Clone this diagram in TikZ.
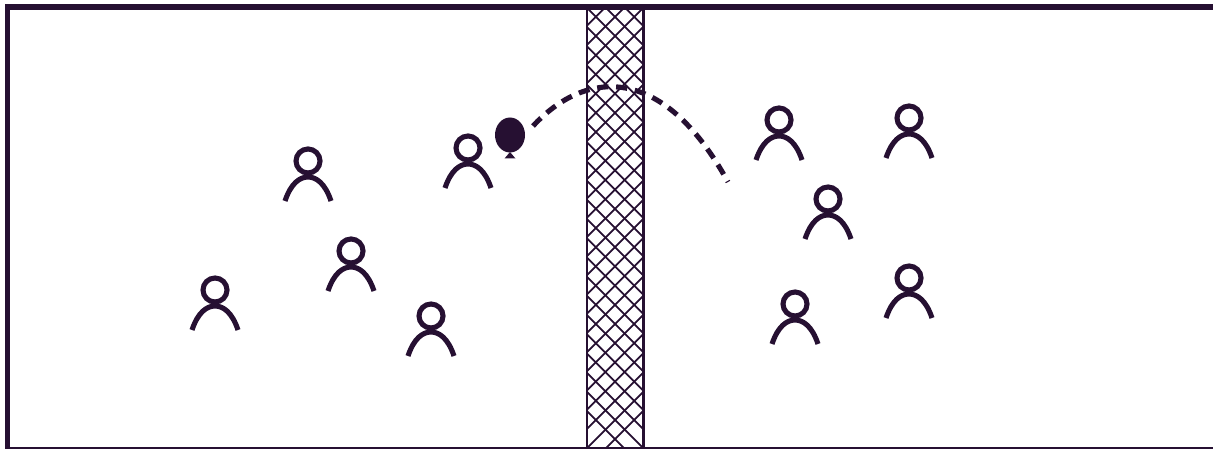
\documentclass[tikz,border=0pt]{standalone}
\usepackage{xcolor}
\definecolor{myink}{RGB}{38,16,50}
\tikzset{
  wall/.style={myink,line width=1.6pt},
  mesh/.style={myink,line width=0.5pt},
  figure/.style={myink,line width=1.45pt},
}
\begin{document}
\begin{tikzpicture}[x=0.01cm,y=-0.01cm]
  \useasboundingbox (0,0) rectangle (1213,449);
  % court
  \draw[wall,line cap=butt] (7.5,449)--(7.5,7)--(1213,7);
  \draw[myink,line width=0.55pt] (5,448)--(1213,448);
  % net
  \begin{scope}
    \clip (587,8) rectangle (643,448);
    \foreach \k in {-20,...,21}{
      \draw[mesh] (587,{8+19.2*\k})--(643,{64+19.2*\k});
      \draw[mesh] (643,{8+19.2*\k})--(587,{64+19.2*\k});
    }
  \end{scope}
  \draw[myink,line width=0.65pt] (587,8)--(587,448);
  \draw[myink,line width=0.65pt] (643.5,8)--(643.5,448);
  % players
  \foreach \x/\y in {308/161,468/148,351/251,215/290,431/316,779/120,909/118,828/199,795/304,909/278}{
    \draw[figure] (\x,\y) circle(12);
    \draw[figure] ({\x-23},{\y+40}) .. controls ({\x-17},{\y+22}) and ({\x-8},{\y+16}) .. (\x,{\y+16})
      .. controls ({\x+8},{\y+16}) and ({\x+17},{\y+22}) .. ({\x+23},{\y+40});
  }
  % ball
  \fill[myink] (510,135) ellipse(15 and 17.5);
  \fill[myink] (510,152)--(515.5,158.5)--(504.5,158.5)--cycle;
  % flight
  \draw[myink,line width=1.45pt,dash pattern=on 11\pgflinewidth off 0pt,dash pattern=on 3.2pt off 2.2pt]
    (533,126) .. controls (585,70) and (662,62) .. (728,182);
\end{tikzpicture}
\end{document}
